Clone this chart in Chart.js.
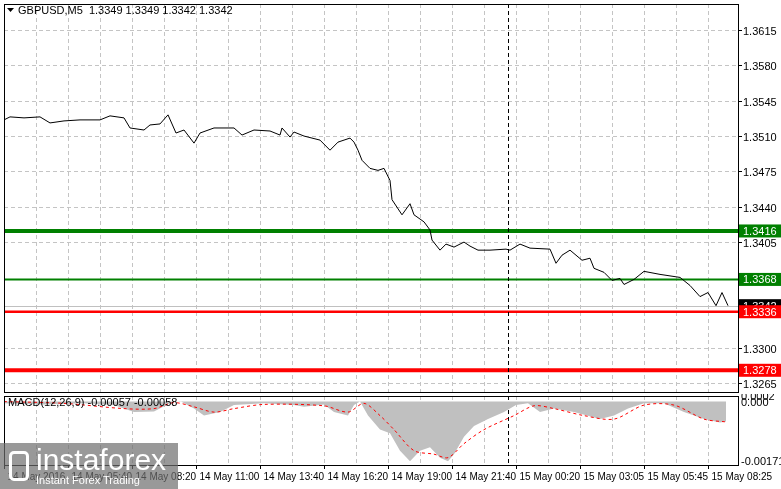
<!DOCTYPE html>
<html>
<head>
<meta charset="utf-8">
<script src="https://cdn.jsdelivr.net/npm/chart.js@4.4.0/dist/chart.umd.min.js"></script>
<style>
  body { margin: 0; background: #fff; width: 781px; height: 489px; overflow: hidden; position: relative; }
  #main { position: absolute; left: 0; top: 0; }
  #macd { position: absolute; left: 0; top: 394px; }
  .logo { position: absolute; left: 0; top: 443px; width: 178px; height: 46px; background: rgba(110,110,110,0.7); color: #fff; }
  .logo .big { position: absolute; left: 36px; top: 0px; font: 30px "Liberation Sans", sans-serif; }
  .logo .small { position: absolute; left: 36px; top: 31px; font: 11px "Liberation Sans", sans-serif; }
  .logo .ic { position: absolute; left: 9px; top: 8px; width: 20px; height: 30px; border-radius: 5px; border: 3px solid #fff; box-sizing: border-box; }
</style>
</head>
<body>
<canvas id="main" width="781" height="394"></canvas>
<canvas id="macd" width="781" height="95"></canvas>
<div class="logo"><div class="ic"></div><div class="big">instaforex</div><div class="small">Instant Forex Trading</div></div>
<script>
// === DATA ===
const priceBars = [0,3,10,18,23,30,38,48,53,60,63,70,73,78,82,86,90,95,98,105,115,119,125,133,138,139,143,145,150,158,163,167,173,175,177,179,183,187,190,193,194,199,203,205,210,213,214,218,221,225,230,233,237,243,251,253,258,263,273,276,279,283,289,293,295,300,304,308,310,315,320,328,338,343,348,352,356,359,362];
const priceClose = [1.3526,1.3529,1.3528,1.3529,1.3523,1.3525,1.3526,1.3526,1.3530,1.3528,1.3518,1.3516,1.3521,1.3522,1.3531,1.3513,1.3516,1.3503,1.3513,1.3518,1.3518,1.3511,1.3516,1.3515,1.3511,1.3518,1.3509,1.3514,1.3510,1.3506,1.3496,1.3504,1.3508,1.3504,1.3496,1.3486,1.3478,1.3476,1.3478,1.3466,1.3447,1.3432,1.3443,1.3432,1.3425,1.3417,1.3407,1.3397,1.3403,1.3400,1.3405,1.3401,1.3397,1.3397,1.3398,1.3397,1.3403,1.3399,1.3398,1.3384,1.3392,1.3397,1.3387,1.3389,1.3379,1.3375,1.3367,1.3369,1.3363,1.3368,1.3376,1.3373,1.3370,1.3362,1.3351,1.3355,1.3342,1.3355,1.3342];

const histBars = [0,20,40,55,65,75,83,88,95,100,108,115,130,145,150,160,165,172,175,178,182,188,193,198,203,208,213,218,222,225,230,235,242,250,256,262,268,275,285,298,305,312,320,330,340,350,358,361];
const histValues = [-0.00005,-0.00008,-0.00005,-0.0001,-0.0003,-0.00028,-0.00005,0.00002,-0.0002,-0.0004,-0.0003,-0.0001,-0.00005,-0.0001,-0.00015,-0.00008,-0.0003,-0.0004,-0.0001,0,-0.0004,-0.0008,-0.0009,-0.0014,-0.0017,-0.0014,-0.0013,-0.0016,-0.0017,-0.0015,-0.001,-0.0007,-0.0005,-0.0003,-0.0001,-0.00005,-0.0003,-0.0002,-0.0003,-0.0005,-0.0004,-0.0002,-0.00005,-0.00005,-0.0003,-0.0005,-0.0006,-0.00057];
const signalBars = [0,30,60,75,85,95,105,115,130,160,172,180,188,195,205,215,222,230,240,255,265,275,290,305,320,335,350,361];
const signalValues = [0,-0.00005,-0.0002,-0.0002,-0.00003,-0.00015,-0.0003,-0.0002,-0.00008,-0.00012,-0.0003,-0.00005,-0.0004,-0.0008,-0.0014,-0.0015,-0.0016,-0.0012,-0.0008,-0.0004,-0.00012,-0.0002,-0.0004,-0.0005,-0.0001,-0.0001,-0.0005,-0.00058];

const priceTicks = [1.3615,1.3580,1.3545,1.3510,1.3475,1.3440,1.3405,1.3300,1.3265];
const timeTickBars = [0,32,64,96,128,160,192,224,256,288,320,352];
const timeLabels = ['14 May 2016','14 May 05:40','14 May 08:20','14 May 11:00','14 May 13:40','14 May 16:20','14 May 19:00','14 May 21:40','15 May 00:20','15 May 03:05','15 May 05:45','15 May 08:25'];
const levels = [
  { price: 1.3416, color: '#008000', width: 4 },
  { price: 1.3368, color: '#008000', width: 2 },
  { price: 1.3336, color: '#ff0000', width: 2.5 },
  { price: 1.3278, color: '#ff0000', width: 4 },
];
const lastPrice = 1.3342;
const crossBar = 252;

const FONT = '11px "Liberation Sans", sans-serif';
const GRID = '#c4c4c4';

function dashedGrid(chart) {
  const { ctx, chartArea: a, scales: { x, y } } = chart;
  ctx.save();
  ctx.strokeStyle = GRID; ctx.lineWidth = 1; ctx.setLineDash([4, 3]);
  x.ticks.forEach(t => {
    const px = Math.round(x.getPixelForValue(t.value)) + 0.5;
    ctx.beginPath(); ctx.moveTo(px, a.top); ctx.lineTo(px, a.bottom); ctx.stroke();
  });
  (y.$gridValues || []).forEach(v => {
    const py = Math.round(y.getPixelForValue(v)) + 0.5;
    ctx.beginPath(); ctx.moveTo(a.left, py); ctx.lineTo(a.right, py); ctx.stroke();
  });
  ctx.restore();
}

// === MAIN CHART PLUGIN ===
const mainDecor = {
  id: 'mainDecor',
  beforeDatasetsDraw(chart) {
    const { ctx, chartArea: a, scales: { x, y } } = chart;
    y.$gridValues = priceTicks;
    dashedGrid(chart);
    ctx.save();
    const py = Math.round(y.getPixelForValue(lastPrice)) + 0.5;
    ctx.strokeStyle = '#c0c0c0'; ctx.lineWidth = 1;
    ctx.beginPath(); ctx.moveTo(a.left, py); ctx.lineTo(a.right, py); ctx.stroke();
    levels.forEach(l => {
      const ly = y.getPixelForValue(l.price);
      ctx.strokeStyle = l.color; ctx.lineWidth = l.width;
      ctx.beginPath(); ctx.moveTo(a.left, ly); ctx.lineTo(a.right, ly); ctx.stroke();
    });
    const cx = Math.round(x.getPixelForValue(crossBar)) + 0.5;
    ctx.strokeStyle = '#000'; ctx.lineWidth = 1; ctx.setLineDash([4, 3]);
    ctx.beginPath(); ctx.moveTo(cx, a.top); ctx.lineTo(cx, a.bottom); ctx.stroke();
    ctx.restore();
  },
  afterDraw(chart) {
    const { ctx, chartArea: a, scales: { y } } = chart;
    ctx.save();
    ctx.strokeStyle = '#000'; ctx.lineWidth = 1;
    ctx.strokeRect(a.left + 0.5, a.top + 0.5, a.right - a.left, a.bottom - a.top);
    ctx.font = FONT; ctx.textBaseline = 'middle'; ctx.fillStyle = '#000';
    priceTicks.forEach(v => {
      const ty = Math.round(y.getPixelForValue(v)) + 0.5;
      ctx.beginPath(); ctx.moveTo(a.right, ty); ctx.lineTo(a.right + 4, ty); ctx.stroke();
      ctx.fillText(v.toFixed(4), a.right + 5, ty + 1);
    });
    const boxes = [{ price: lastPrice, color: '#000' }].concat(levels);
    boxes.forEach(b => {
      const by = y.getPixelForValue(b.price);
      ctx.fillStyle = b.color;
      ctx.fillRect(a.right + 1, by - 6.5, 43, 13);
      ctx.fillStyle = '#fff';
      ctx.fillText(b.price.toFixed(4), a.right + 5, by + 1);
    });
    ctx.fillStyle = '#000';
    ctx.beginPath(); ctx.moveTo(7, 8); ctx.lineTo(14, 8); ctx.lineTo(10.5, 12); ctx.closePath(); ctx.fill();
    ctx.fillText('GBPUSD,M5  1.3349 1.3349 1.3342 1.3342', 18, 11);
    ctx.restore();
  }
};

const xTicks = s => { const t = []; for (let v = 16; v < 367; v += 16) t.push({ value: v }); s.ticks = t; };

new Chart(document.getElementById('main'), {
  type: 'line',
  data: {
    datasets: [{
      data: priceBars.map((b, i) => ({ x: b, y: priceClose[i] })),
      borderColor: '#000', borderWidth: 1, pointRadius: 0, tension: 0,
    }]
  },
  options: {
    responsive: false, animation: false,
    layout: { padding: { left: 4, top: 4, right: 0, bottom: 0 } },
    plugins: { legend: { display: false }, tooltip: { enabled: false } },
    scales: {
      x: {
        type: 'linear', min: 0, max: 367, afterBuildTicks: xTicks,
        ticks: { display: false }, grid: { display: false }, border: { display: false },
        afterFit: s => { s.height = 2; }
      },
      y: {
        position: 'right', min: 1.32565, max: 1.36408,
        ticks: { display: false }, grid: { display: false }, border: { display: false },
        afterFit: s => { s.width = 43; }
      }
    }
  },
  plugins: [mainDecor]
});

// === MACD CHART ===
const macdDecor = {
  id: 'macdDecor',
  beforeDatasetsDraw(chart) {
    const { ctx, chartArea: a, scales: { x } } = chart;
    dashedGrid(chart);
    const cx = Math.round(x.getPixelForValue(crossBar)) + 0.5;
    ctx.save();
    ctx.strokeStyle = '#000'; ctx.lineWidth = 1; ctx.setLineDash([4, 3]);
    ctx.beginPath(); ctx.moveTo(cx, a.top); ctx.lineTo(cx, a.bottom); ctx.stroke();
    ctx.restore();
  },
  afterDraw(chart) {
    const { ctx, chartArea: a, scales: { x, y } } = chart;
    ctx.save();
    ctx.strokeStyle = '#000'; ctx.lineWidth = 1;
    ctx.strokeRect(a.left + 0.5, a.top + 0.5, a.right - a.left, a.bottom - a.top);
    ctx.font = FONT; ctx.fillStyle = '#000'; ctx.textBaseline = 'middle';
    ctx.fillText('MACD(12,26,9) -0.00057 -0.00058', 8, a.top + 7);
    ctx.fillText('0.000', a.right + 3, y.getPixelForValue(0) + 1);
    ctx.fillText('0.0002', a.right + 3, y.getPixelForValue(0.0002) + 2);
    ctx.fillText('-0.00171', a.right + 3, y.getPixelForValue(-0.00171));
    ctx.font = '10px "Liberation Sans", sans-serif';
    ctx.textBaseline = 'top';
    timeTickBars.forEach((b, i) => {
      const tx = Math.round(x.getPixelForValue(b)) + 0.5;
      ctx.beginPath(); ctx.moveTo(tx, a.bottom); ctx.lineTo(tx, a.bottom + 4); ctx.stroke();
      ctx.fillText(timeLabels[i], tx + 3, a.bottom + 7);
    });
    ctx.restore();
  }
};

new Chart(document.getElementById('macd'), {
  type: 'line',
  data: {
    datasets: [
      {
        data: signalBars.map((b, i) => ({ x: b, y: signalValues[i] })),
        borderColor: '#ff0000', borderWidth: 1, borderDash: [3, 3], pointRadius: 0, tension: 0.3,
      },
      {
        data: histBars.map((b, i) => ({ x: b, y: histValues[i] })),
        borderWidth: 0, backgroundColor: '#c0c0c0', fill: 'origin', pointRadius: 0, tension: 0,
      }
    ]
  },
  options: {
    responsive: false, animation: false,
    layout: { padding: { left: 4, top: 2, right: 0, bottom: 0 } },
    plugins: { legend: { display: false }, tooltip: { enabled: false } },
    scales: {
      x: {
        type: 'linear', min: 0, max: 367, afterBuildTicks: xTicks,
        ticks: { display: false }, grid: { display: false }, border: { display: false },
        afterFit: s => { s.height = 24; }
      },
      y: {
        position: 'right', min: -0.00181, max: 0.00016,
        ticks: { display: false }, grid: { display: false }, border: { display: false },
        afterFit: s => { s.width = 43; }
      }
    }
  },
  plugins: [macdDecor]
});
</script>
</body>
</html>
